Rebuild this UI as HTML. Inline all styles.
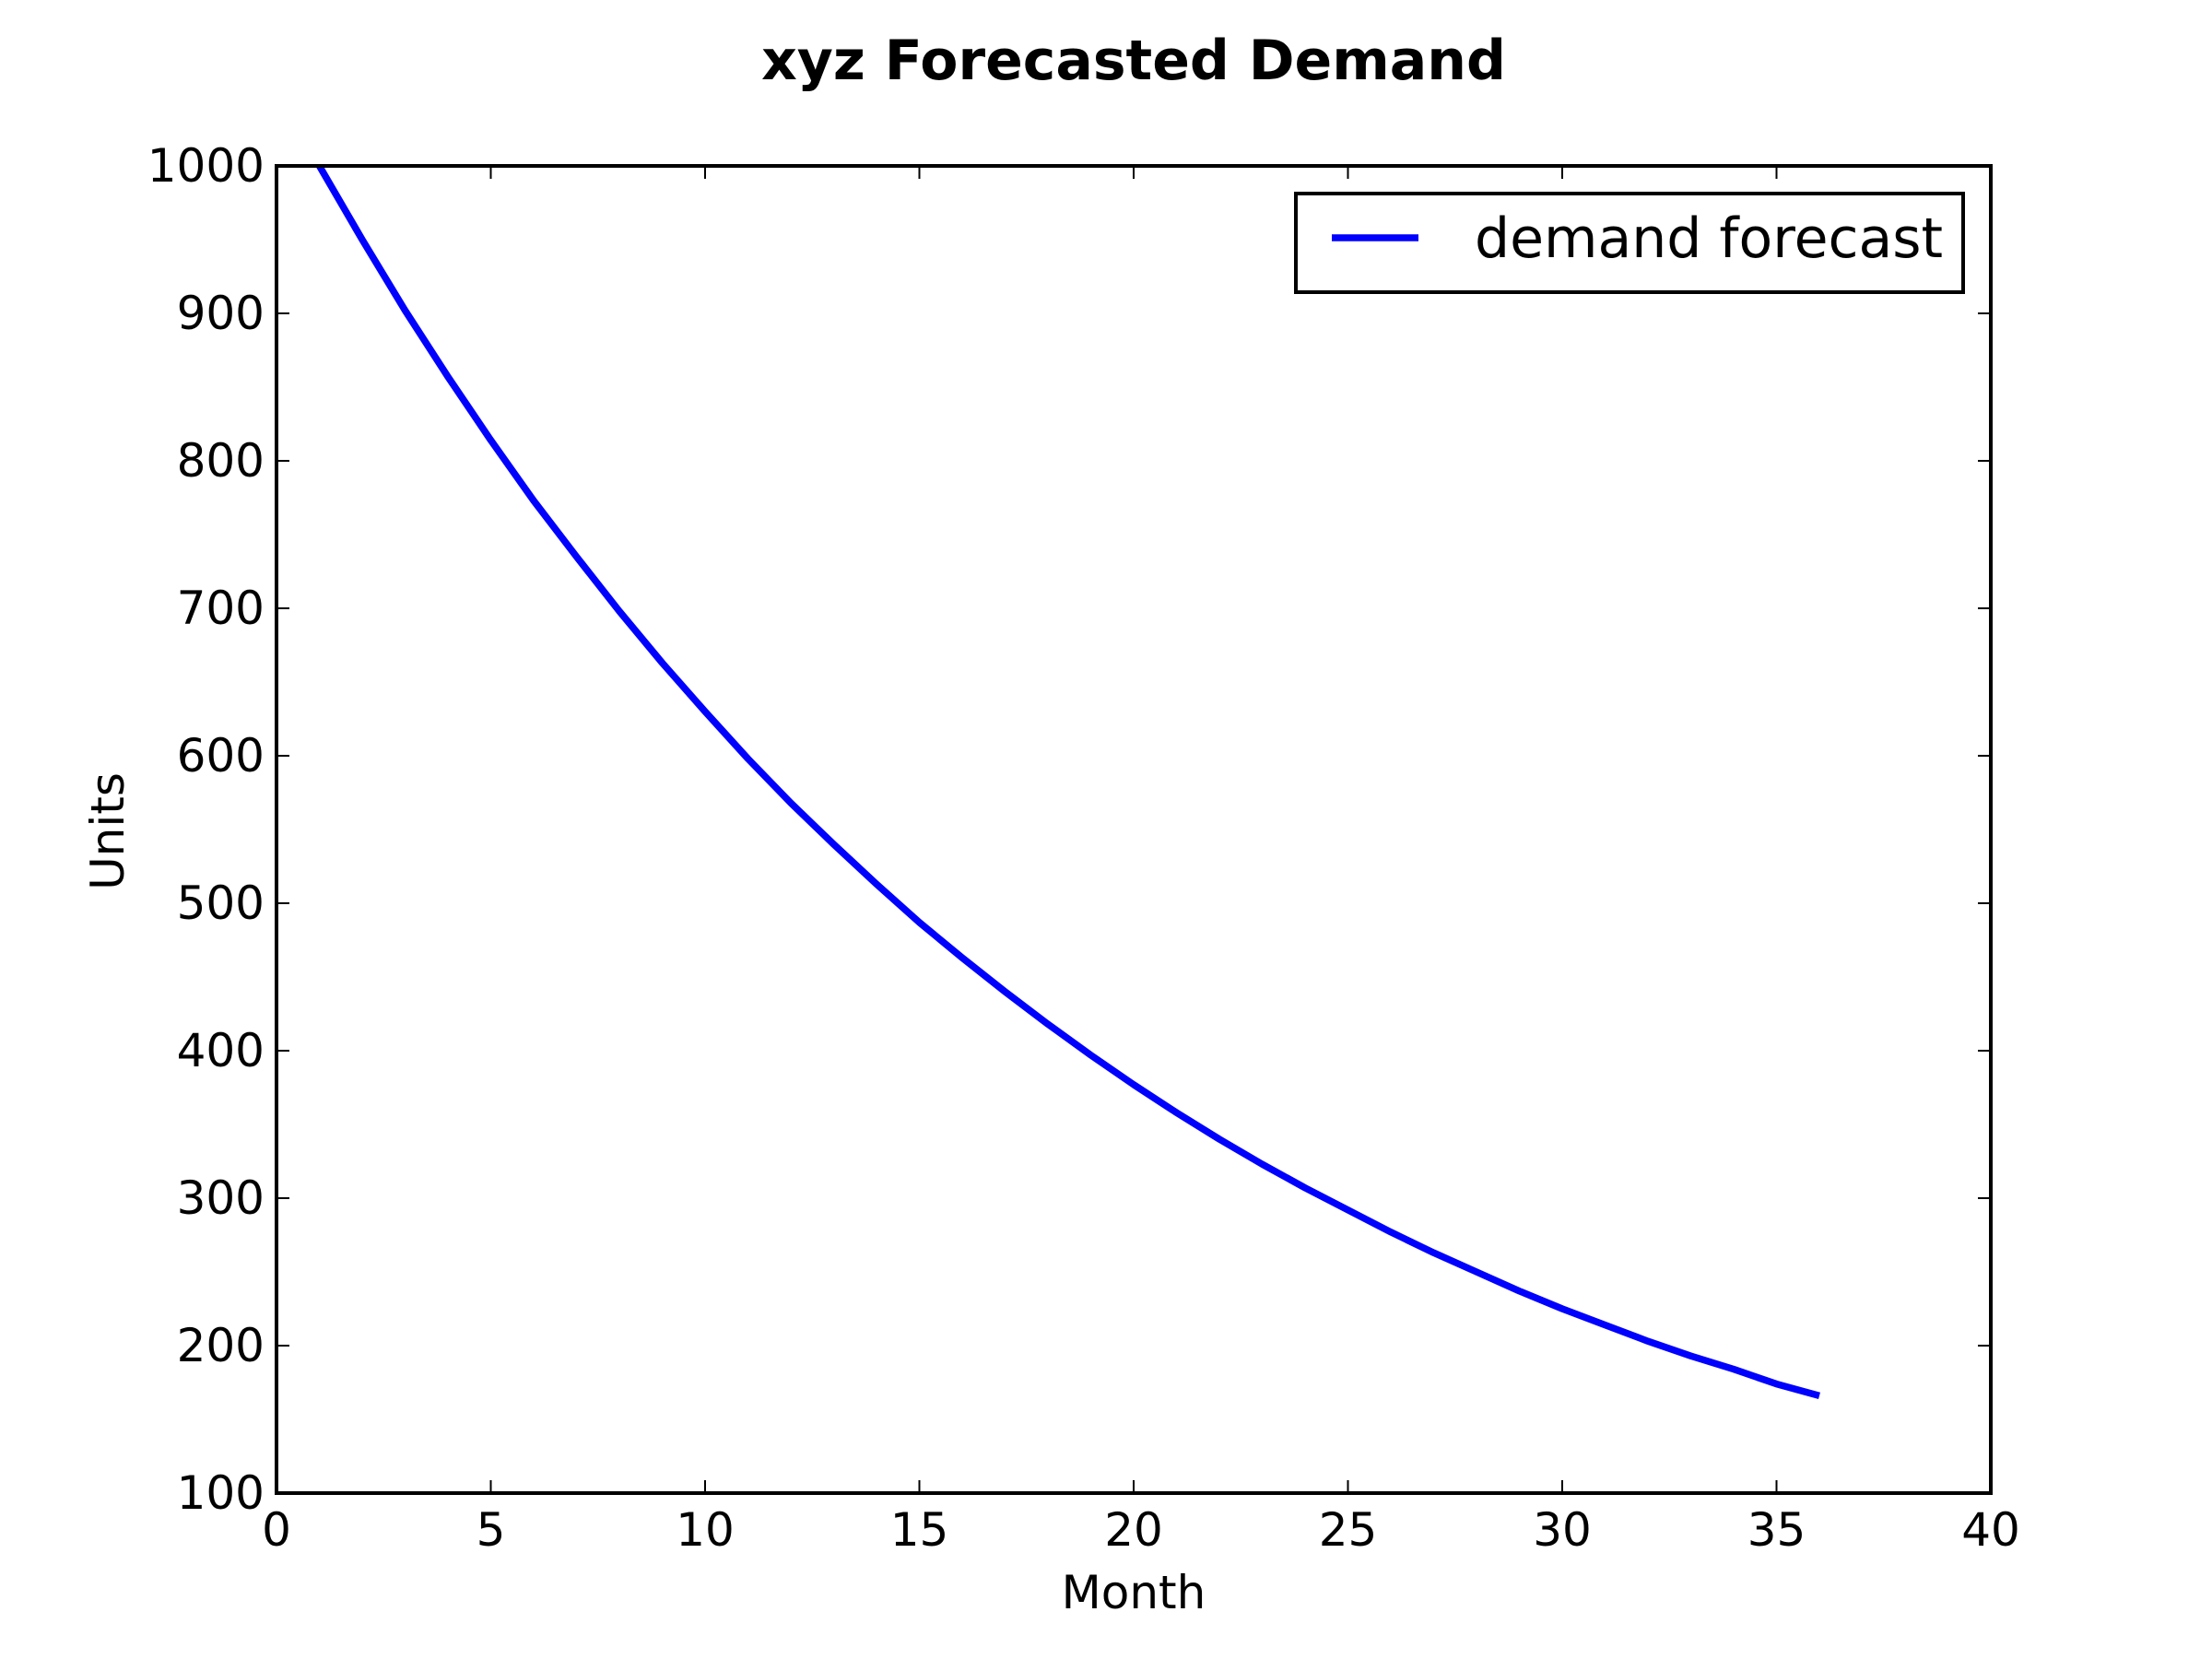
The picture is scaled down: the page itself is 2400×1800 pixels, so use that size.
<!DOCTYPE html>
<html><head><meta charset="utf-8"><style>
html,body{margin:0;padding:0;background:#fff;}
svg{display:block;font-family:"DejaVu Sans","Liberation Sans",sans-serif;}
</style></head><body>
<svg id="chart" width="2400" height="1800" viewBox="0 0 2400 1800" xmlns="http://www.w3.org/2000/svg">
<rect width="2400" height="1800" fill="#fff"/>
<text x="1230" y="86" text-anchor="middle" font-size="60" font-weight="bold">xyz Forecasted Demand</text>
<g id="ticks"></g>
<path id="series" fill="none" stroke="#0000ff" stroke-width="7.5" stroke-linejoin="round"/>
<rect x="300" y="180" width="1860" height="1440" fill="none" stroke="#000" stroke-width="4"/>
<text x="1230" y="1745" text-anchor="middle" font-size="50">Month</text>
<text transform="translate(134,902) rotate(-90)" text-anchor="middle" font-size="50">Units</text>
<g>
<rect x="1406" y="210" width="724" height="107" fill="#fff" stroke="#000" stroke-width="4"/>
<line x1="1445" y1="258" x2="1539" y2="258" stroke="#0000ff" stroke-width="7.5"/>
<text x="1600" y="279" font-size="60">demand forecast</text>
</g>
</svg>
<script>
const months = [1,2,3,4,5,6,7,8,9,10,11,12,13,14,15,16,17,18,19,20,21,22,23,24,25,26,27,28,29,30,31,32,33,34,35,36];
const demand = [1000,950,902,857,814,773,735,698,663,630,598,568,540,513,487,463,440,418,397,377,358,340,323,307,292,277,263,250,237,225,214,203,193,184,174,166];
const xTicks = [0,5,10,15,20,25,30,35,40];
const yTicks = [100,200,300,400,500,600,700,800,900,1000];
const X0=300,X1=2160,Y0=1620,Y1=180;
function xs(v){return X0+(v-0)/(40-0)*(X1-X0);}
function ys(v){return Y0-(v-100)/(1000-100)*(Y0-Y1);}
const NS="http://www.w3.org/2000/svg";
const g=document.getElementById('ticks');
function mk(tag,attrs){const e=document.createElementNS(NS,tag);for(const k in attrs)e.setAttribute(k,attrs[k]);g.appendChild(e);return e;}
xTicks.forEach(t=>{
  const x=xs(t);
  const a=mk('line',{x1:x,y1:Y0,x2:x,y2:Y0-14,stroke:'#000','stroke-width':2});
  
  
  const b=mk('line',{x1:x,y1:Y1,x2:x,y2:Y1+14,stroke:'#000','stroke-width':2});
  
  
  const l=mk('text',{x:x,y:1677,'text-anchor':'middle','font-size':50});
  l.textContent=t;
  
  
});
yTicks.forEach(t=>{
  const y=ys(t);
  const a=mk('line',{x1:X0,y1:y,x2:X0+14,y2:y,stroke:'#000','stroke-width':2});
  
  
  const b=mk('line',{x1:X1,y1:y,x2:X1-14,y2:y,stroke:'#000','stroke-width':2});
  
  
  const l=mk('text',{x:287,y:y+17,'text-anchor':'end','font-size':50});
  l.textContent=t;
  
  
});
document.getElementById('series').setAttribute('d',months.map((m,i)=>(i?'L':'M')+xs(m).toFixed(1)+' '+ys(demand[i]).toFixed(1)).join(' '));
</script>
</body></html>
